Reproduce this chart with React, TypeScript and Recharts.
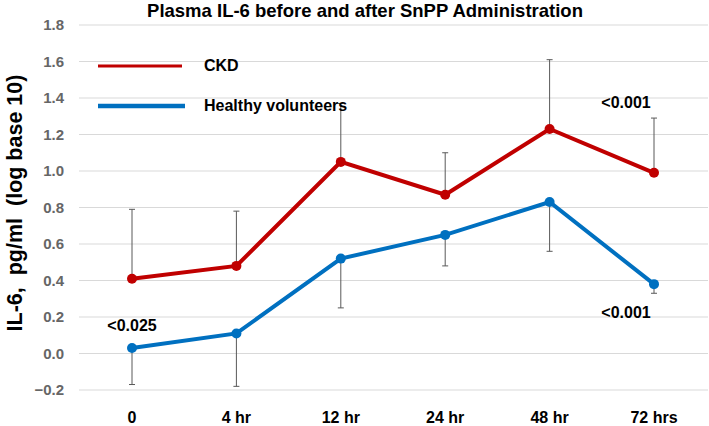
import React from "react";
import { LineChart, Line, XAxis, YAxis, CartesianGrid, ErrorBar, Legend, ReferenceDot } from "recharts";

const categories = ["0", "4 hr", "12 hr", "24 hr", "48 hr", "72 hrs"];
const ckd = [0.41, 0.48, 1.05, 0.87, 1.23, 0.99];
const ckdUpper = [0.79, 0.78, 1.37, 1.1, 1.61, 1.29];
const healthy = [0.03, 0.11, 0.52, 0.65, 0.83, 0.38];
const healthyLower = [-0.17, -0.18, 0.25, 0.48, 0.56, 0.33];
const yTicks = [-0.2, 0, 0.2, 0.4, 0.6, 0.8, 1.0, 1.2, 1.4, 1.6, 1.8];

// p-value notes: category, y value, text
const noteCats = ["0", "72 hrs", "72 hrs"];
const noteValues = [0.156, 1.374, 0.227];
const noteTexts = ["<0.025", "<0.001", "<0.001"];

const RED = "#C00000";
const BLUE = "#0070C0";
const FONT = '"Liberation Sans", Arial, sans-serif';

const data = categories.map((c, i) => ({
  cat: c,
  ckd: ckd[i],
  ckdErr: [0, +(ckdUpper[i] - ckd[i]).toFixed(3)],
  healthy: healthy[i],
  healthyErr: [+(healthy[i] - healthyLower[i]).toFixed(3), 0],
}));

const fmt = (v: number) => (v < 0 ? "\u2212" + Math.abs(v).toFixed(1) : v.toFixed(1));

const LegendBox = () => (
  <div style={{ fontFamily: FONT, fontWeight: 700, fontSize: 16, color: "#000" }}>
    {[
      { name: "CKD", color: RED, w: 3, len: 84 },
      { name: "Healthy volunteers", color: BLUE, w: 4.5, len: 87 },
    ].map((it, i) => (
      <div key={i} style={{ display: "flex", alignItems: "center", height: 20, marginBottom: i === 0 ? 20 : 0 }}>
        <svg width={106} height={20}>
          <line x1={0} x2={it.len} y1={10} y2={10} stroke={it.color} strokeWidth={it.w} />
        </svg>
        <span>{it.name}</span>
      </div>
    ))}
  </div>
);

const YTitle = () => (
  <text
    x={15}
    y={203}
    transform="rotate(-90 15 203)"
    textAnchor="middle"
    dominantBaseline="central"
    style={{ fontFamily: FONT, fontWeight: 700, fontSize: 21.5, fill: "#000", whiteSpace: "pre" }}
  >
    {"IL-6,  pg/ml  (log base 10)"}
  </text>
);

const noteShape = (dx: number, text: string) => (p: any) => (
  <text
    x={p.cx + dx}
    y={p.cy}
    textAnchor="middle"
    dominantBaseline="central"
    style={{ fontFamily: FONT, fontWeight: 700, fontSize: 16, fill: "#000" }}
  >
    {text}
  </text>
);

export default function App() {
  return (
    <div style={{ position: "absolute", left: 0, top: 0, width: 709, height: 426, background: "#fff", fontFamily: FONT }}>
      <div
        style={{
          position: "absolute",
          top: 0,
          left: 365,
          transform: "translateX(-50%)",
          whiteSpace: "nowrap",
          fontWeight: 700,
          fontSize: 18.5,
          lineHeight: "21px",
          color: "#000",
        }}
      >
        Plasma IL-6 before and after SnPP Administration
      </div>
      <LineChart width={709} height={426} data={data} margin={{ top: 25, right: 1, left: 0, bottom: 0 }}>
        <CartesianGrid horizontal vertical={false} stroke="#D9D9D9" strokeWidth={1} />
        <XAxis
          dataKey="cat"
          axisLine={false}
          tickLine={false}
          tickSize={0}
          tickMargin={22}
          height={36}
          padding={{ left: 53, right: 54 }}
          tick={{ fill: "#000", fontSize: 16, fontWeight: 700, fontFamily: FONT }}
          interval={0}
        />
        <YAxis
          width={79}
          domain={[-0.2, 1.8]}
          ticks={yTicks}
          tickFormatter={fmt}
          axisLine={false}
          tickLine={false}
          tickSize={0}
          tickMargin={15}
          interval={0}
          tick={{ fill: "#666666", fontSize: 15, fontWeight: 700, fontFamily: FONT }}
          label={{ content: YTitle }}
        />
        <Legend
          layout="vertical"
          align="center"
          verticalAlign="middle"
          content={LegendBox}
          wrapperStyle={{ top: 56, left: 98, width: 300 }}
        />
        <Line
          type="linear"
          dataKey="ckd"
          name="CKD"
          stroke={RED}
          strokeWidth={4}
          dot={{ r: 5, fill: RED, stroke: RED, strokeWidth: 0 }}
          activeDot={false}
          isAnimationActive={false}
        >
          <ErrorBar dataKey="ckdErr" direction="y" width={3} stroke="#595959" strokeWidth={1} />
        </Line>
        <Line
          type="linear"
          dataKey="healthy"
          name="Healthy volunteers"
          stroke={BLUE}
          strokeWidth={4}
          dot={{ r: 5, fill: BLUE, stroke: BLUE, strokeWidth: 0 }}
          activeDot={false}
          isAnimationActive={false}
        >
          <ErrorBar dataKey="healthyErr" direction="y" width={3} stroke="#595959" strokeWidth={1} />
        </Line>
        {noteTexts.map((t, i) => (
          <ReferenceDot
            key={i}
            x={noteCats[i]}
            y={noteValues[i]}
            r={0}
            shape={noteShape(i === 0 ? 0 : -28, t)}
          />
        ))}
      </LineChart>
    </div>
  );
}
